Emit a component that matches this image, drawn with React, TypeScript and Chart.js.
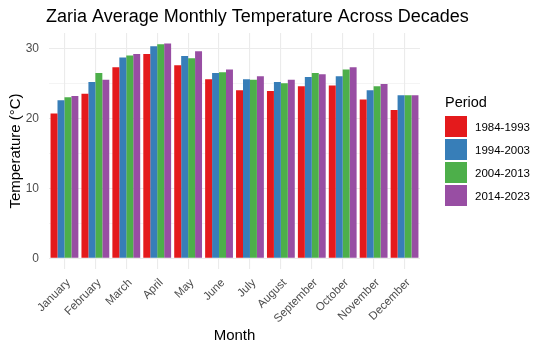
import React, { useEffect, useRef } from "react";
import { Chart, registerables } from "chart.js";

Chart.register(...registerables);

const chartTitle = "Zaria Average Monthly Temperature Across Decades";
const months = [
  "January", "February", "March", "April", "May", "June",
  "July", "August", "September", "October", "November", "December",
];
const periods = ["1984-1993", "1994-2003", "2004-2013", "2014-2023"];
const periodColors = ["#E41A1C", "#377EB8", "#4DAF4A", "#984EA3"];
const temps1984 = [20.7, 23.5, 27.3, 29.2, 27.6, 25.6, 24.0, 23.9, 24.6, 24.7, 22.7, 21.2];
const temps1994 = [22.6, 25.2, 28.7, 30.3, 28.9, 26.5, 25.6, 25.2, 25.9, 26.0, 24.0, 23.3];
const temps2004 = [23.0, 26.5, 29.0, 30.6, 28.6, 26.6, 25.5, 25.0, 26.5, 27.0, 24.6, 23.3];
const temps2014 = [23.2, 25.5, 29.2, 30.7, 29.6, 27.0, 26.0, 25.5, 26.3, 27.3, 24.9, 23.3];
const yTickValues = [0, 5, 10, 15, 20, 25, 30];

const FONT = "'Liberation Sans', Arial, sans-serif";

const leftTitlePlugin = {
  id: "leftTitle",
  afterDraw(chart: any) {
    const ctx = chart.ctx;
    ctx.save();
    ctx.font = `18px ${FONT}`;
    ctx.fillStyle = "#000000";
    ctx.textAlign = "left";
    ctx.textBaseline = "alphabetic";
    ctx.fillText(chartTitle, chart.chartArea.left - 3, 14);
    ctx.restore();
  },
};

export default function App() {
  const canvasRef = useRef<HTMLCanvasElement | null>(null);

  useEffect(() => {
    const canvas = canvasRef.current;
    if (!canvas) return;
    const series = [temps1984, temps1994, temps2004, temps2014];
    const chart = new Chart(canvas, {
      type: "bar",
      data: {
        labels: months,
        datasets: periods.map((p, i) => ({
          label: p,
          data: series[i],
          backgroundColor: periodColors[i],
          borderWidth: 0,
          categoryPercentage: 0.9,
          barPercentage: 1.0,
        })),
      },
      plugins: [leftTitlePlugin],
      options: {
        animation: false,
        responsive: false,
        maintainAspectRatio: false,
        layout: { padding: { left: 0, right: 122, top: 25, bottom: 0 } },
        plugins: {
          legend: { display: false },
          tooltip: { enabled: false },
          title: { display: false },
        },
        scales: {
          x: {
            type: "category",
            offset: true,
            grid: { offset: false, color: "#EBEBEB", lineWidth: 1.1, drawTicks: false },
            border: { display: false },
            ticks: {
              minRotation: 45,
              maxRotation: 45,
              autoSkip: false,
              padding: 7,
              labelOffset: 4,
              color: "#4D4D4D",
              font: { family: FONT, size: 11.5 },
            },
            title: {
              display: true,
              text: "Month",
              color: "#000000",
              font: { family: FONT, size: 15, lineHeight: 1.2 },
              padding: 0,
            },
            afterFit: (s: any) => {
              s.height = 76;
            },
          },
          y: {
            min: -1.535,
            max: 32.2,
            afterBuildTicks: (a: any) => {
              a.ticks = yTickValues.map((v) => ({ value: v }));
            },
            grid: {
              color: "#EBEBEB",
              lineWidth: (ctx: any) => (ctx.tick && ctx.tick.value % 10 === 0 ? 1.1 : 0.55),
              drawTicks: false,
            },
            border: { display: false },
            ticks: {
              padding: 10,
              color: "#4D4D4D",
              font: { family: FONT, size: 12 },
              callback: (v: any) => (Number(v) % 10 === 0 ? String(v) : ""),
            },
            title: {
              display: true,
              text: "Temperature (°C)",
              color: "#000000",
              font: { family: FONT, size: 15, lineHeight: 1 },
              padding: 0,
            },
            afterFit: (s: any) => {
              s.width = 41;
            },
          },
        },
      },
    });
    return () => chart.destroy();
  }, []);

  return (
    <div style={{ position: "relative", width: 534, height: 337 }}>
      <canvas ref={canvasRef} width={534} height={337} style={{ display: "block" }} />
      <div
        style={{
          position: "absolute",
          left: 437,
          top: 86,
          fontFamily: FONT,
          color: "#000",
        }}
      >
        <div style={{ fontSize: 14.5, lineHeight: "16px", marginBottom: 6 }}>Period</div>
        {periods.map((p, i) => (
          <div
            key={p}
            style={{ display: "flex", alignItems: "center", height: 21, marginBottom: 2 }}
          >
            <div style={{ width: 22, height: 21, background: periodColors[i] }} />
            <div style={{ marginLeft: 8, fontSize: 11.5, lineHeight: "14px" }}>{p}</div>
          </div>
        ))}
      </div>
    </div>
  );
}
